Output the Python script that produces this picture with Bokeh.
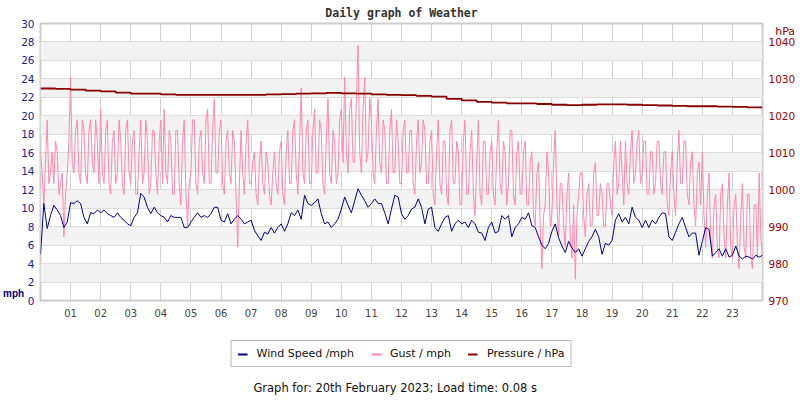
from bokeh.plotting import figure
from bokeh.layouts import column
from bokeh.models import Range1d, LinearAxis, FixedTicker, Legend, LegendItem, Label
from bokeh.embed import file_html
from bokeh.resources import INLINE

# ---------------- data ----------------
wind_step_hours = 1 / 9    # wind logged every 6 min 40 s
gust_step_hours = 1 / 18   # gust logged every 3 min 20 s

wind_mph = [
    5.0, 10.5, 7.8, 9.2, 10.3, 9.8, 9.2, 7.9, 8.5,
    10.6, 10.5, 10.8, 10.5, 9.0, 8.3, 9.5, 9.4, 9.8,
    9.5, 9.8, 9.4, 9.2, 9.0, 9.5, 9.0, 8.7, 8.3,
    8.1, 9.0, 9.5, 11.6, 11.2, 10.1, 9.4, 10.1, 9.5,
    9.2, 9.0, 8.5, 9.2, 9.0, 9.0, 9.0, 7.9, 7.9,
    8.5, 9.0, 9.5, 9.0, 9.2, 9.0, 9.4, 10.1, 10.1,
    8.7, 8.5, 9.4, 8.3, 8.8, 9.2, 8.8, 8.3, 8.5,
    8.7, 7.6, 7.0, 6.5, 7.4, 7.2, 7.9, 7.3, 7.9,
    8.3, 7.5, 8.3, 9.5, 9.2, 9.8, 8.8, 11.4, 10.5,
    10.3, 10.6, 11.0, 9.4, 8.3, 8.5, 7.9, 8.3, 8.8,
    9.9, 11.2, 10.3, 9.5, 10.8, 12.1, 11.4, 10.8, 10.1,
    10.5, 11.0, 10.5, 10.5, 9.5, 8.3, 9.9, 11.4, 11.2,
    9.4, 8.8, 9.2, 9.9, 10.1, 11.0, 10.1, 8.3, 9.9,
    10.1, 7.9, 7.5, 8.3, 9.0, 9.2, 7.5, 8.3, 8.7,
    8.3, 8.5, 7.9, 8.7, 8.3, 7.4, 7.3, 6.5, 7.9,
    8.5, 7.3, 7.5, 9.2, 8.8, 9.2, 6.9, 7.9, 8.3,
    9.0, 8.8, 9.5, 8.1, 7.9, 6.9, 6.0, 5.6, 6.2,
    7.5, 8.3, 6.8, 5.9, 5.2, 6.4, 5.7, 5.2, 5.6,
    4.8, 5.6, 6.4, 6.9, 7.7, 6.9, 5.0, 6.2, 6.0,
    6.5, 8.7, 9.4, 8.5, 9.0, 8.3, 10.1, 9.0, 8.7,
    7.9, 8.7, 7.9, 8.7, 8.3, 9.0, 9.5, 9.4, 6.9,
    6.5, 7.4, 8.3, 9.0, 7.9, 6.9, 7.3, 7.3, 4.9,
    6.4, 7.9, 7.7, 4.8, 5.2, 5.6, 4.8, 5.6, 4.7,
    4.9, 5.9, 4.8, 4.5, 4.8, 4.7, 4.5, 4.9, 4.7,
    4.9,
]

# gusts are logged in whole knots (one row per hour)
gust_knots = [
    14, 12, 9, 13, 17, 11, 12, 14, 11, 15, 14, 10, 11, 12, 6, 10, 12, 15,
    21, 13, 12, 16, 17, 12, 11, 17, 16, 12, 11, 16, 17, 13, 12, 17, 15, 11,
    18, 12, 11, 16, 17, 11, 10, 15, 16, 11, 12, 17, 15, 11, 10, 16, 17, 12,
    11, 15, 16, 10, 10, 14, 17, 11, 12, 17, 15, 10, 11, 16, 16, 12, 10, 15,
    17, 11, 18, 12, 11, 16, 15, 10, 10, 16, 16, 11, 9, 15, 17, 10, 7, 11,
    12, 17, 17, 11, 10, 15, 16, 12, 11, 17, 18, 11, 11, 16, 19, 12, 12, 16,
    17, 11, 10, 15, 16, 12, 11, 16, 15, 10, 5, 11, 16, 12, 10, 15, 17, 11,
    11, 13, 14, 10, 9, 13, 15, 11, 10, 14, 13, 10, 9, 12, 14, 11, 10, 14,
    15, 10, 9, 14, 16, 11, 11, 16, 17, 12, 10, 15, 20, 12, 11, 16, 17, 11,
    11, 16, 18, 12, 12, 17, 16, 11, 10, 15, 19, 12, 11, 16, 15, 11, 12, 17,
    18, 13, 21, 14, 12, 18, 19, 13, 13, 19, 24, 14, 12, 18, 21, 13, 14, 19,
    17, 12, 11, 16, 19, 13, 12, 17, 16, 11, 11, 16, 18, 12, 12, 17, 15, 11,
    11, 16, 17, 12, 12, 16, 16, 11, 10, 15, 17, 12, 13, 17, 16, 11, 11, 15,
    16, 10, 9, 14, 17, 11, 10, 15, 15, 10, 9, 16, 17, 11, 11, 15, 14, 9,
    9, 15, 17, 10, 10, 14, 16, 10, 8, 13, 17, 10, 9, 15, 15, 10, 10, 14,
    15, 10, 9, 14, 17, 11, 10, 15, 14, 9, 11, 16, 16, 10, 9, 14, 15, 10,
    10, 14, 15, 9, 9, 13, 14, 8, 7, 12, 13, 7, 3, 8, 9, 14, 12, 7,
    8, 13, 16, 9, 6, 11, 11, 7, 5, 10, 12, 6, 4, 9, 2, 8, 10, 12,
    12, 8, 6, 10, 11, 7, 7, 12, 13, 8, 8, 11, 10, 7, 7, 11, 11, 9,
    8, 13, 15, 10, 11, 15, 12, 9, 15, 11, 10, 14, 16, 11, 12, 15, 16, 11,
    12, 15, 15, 10, 10, 14, 14, 10, 11, 15, 15, 11, 10, 14, 14, 9, 8, 12,
    14, 10, 8, 13, 16, 11, 11, 15, 15, 10, 9, 13, 14, 9, 7, 12, 13, 9,
    14, 8, 5, 10, 12, 6, 4, 9, 10, 5, 4, 10, 11, 6, 4, 9, 12, 5,
    4, 9, 10, 5, 3, 8, 11, 5, 4, 10, 10, 4, 3, 9, 9, 4, 12, 6,
    4,
]
MPH_PER_KNOT = 1.1508

pressure_step_hours = 0.5
pressure_hpa = [
    1027.4, 1027.3, 1027.1, 1026.8, 1026.6, 1026.3, 1026.0, 1026.0,
    1025.8, 1025.7, 1025.7, 1025.7, 1025.7, 1025.7, 1025.7, 1025.8,
    1025.9, 1026.0, 1026.1, 1026.2, 1026.1, 1026.0, 1025.8, 1025.7,
    1025.6, 1025.4, 1025.2, 1024.6, 1024.2, 1023.8, 1023.6, 1023.4,
    1023.4, 1023.2, 1023.0, 1022.9, 1023.0, 1023.1, 1023.1, 1023.0,
    1022.9, 1022.8, 1022.7, 1022.6, 1022.6, 1022.5, 1022.4, 1022.3,
    1022.3,
]

hour_ticks = list(range(1, 24))
hour_labels = ["%02d" % h for h in hour_ticks]
mph_ticks = list(range(0, 31, 2))
hpa_ticks = list(range(970, 1041, 10))

series_labels = ["Wind Speed /mph", "Gust / mph", "Pressure / hPa"]
title_text = "Daily graph of Weather"
footer_text = "Graph for: 20th February 2023; Load time: 0.08 s"
left_unit = "mph"
right_unit = "hPa"

# ---------------- derived ----------------
wind_hours = [i * wind_step_hours for i in range(len(wind_mph))]
gust_hours = [i * gust_step_hours for i in range(len(gust_knots))]
gust_mph = [k * MPH_PER_KNOT for k in gust_knots]
pressure_hours = [i * pressure_step_hours for i in range(len(pressure_hpa))]

WIND_C = "#000088"
GUST_C = "#ff88ad"
PRES_C = "#8b0000"
FONT = "DejaVu Sans"

# ---------------- main chart ----------------
p = figure(width=800, height=330, output_backend="svg", toolbar_location=None,
           x_range=Range1d(0, 24), y_range=Range1d(0, 30),
           min_border_left=40, min_border_right=38, min_border_top=23,
           min_border_bottom=30, background_fill_color="white",
           border_fill_color="white")
p.extra_y_ranges = {"hpa": Range1d(970, 1045)}

p.title.text = title_text
p.title.align = "center"
p.title.text_font = "DejaVu Sans Mono"
p.title.text_font_size = "11.5px"
p.title.text_font_style = "bold"
p.title.text_color = "#333333"
p.title.standoff = 7

p.outline_line_color = "#cccccc"
p.outline_line_width = 2

# x axis
xa = p.xaxis[0]
xa.ticker = FixedTicker(ticks=hour_ticks)
xa.major_label_overrides = {h: l for h, l in zip(hour_ticks, hour_labels)}
xa.axis_line_color = None
xa.major_tick_line_color = None
xa.minor_tick_line_color = None
xa.major_tick_out = 0
xa.major_tick_in = 0
xa.major_label_standoff = 8
xa.major_label_text_font = FONT
xa.major_label_text_font_size = "10px"
xa.major_label_text_color = "#444444"

# left axis (unit label sits at the bottom, beside "0")
ya = p.yaxis[0]
ya.ticker = FixedTicker(ticks=mph_ticks)
ya.axis_line_color = None
ya.major_tick_line_color = None
ya.minor_tick_line_color = None
ya.major_tick_out = 0
ya.major_tick_in = 0
ya.major_label_standoff = 6
ya.major_label_text_font = FONT
ya.major_label_text_font_size = "10.5px"
ya.major_label_text_color = "#1c1c8c"
ya.axis_label = left_unit + "\n"
ya.axis_label_orientation = "horizontal"
ya.axis_label_align = "start"
ya.axis_label_standoff = -6
ya.axis_label_text_font = "Liberation Sans"
ya.axis_label_text_font_size = "10px"
ya.axis_label_text_font_style = "bold"
ya.axis_label_text_color = "#000080"

# right axis (unit label sits at the top, beside "1040")
ra = LinearAxis(y_range_name="hpa", ticker=FixedTicker(ticks=hpa_ticks))
ra.axis_line_color = None
ra.major_tick_line_color = None
ra.minor_tick_line_color = None
ra.major_tick_out = 0
ra.major_tick_in = 0
ra.major_label_standoff = 6
ra.major_label_text_font = FONT
ra.major_label_text_font_size = "10.5px"
ra.major_label_text_color = "#990000"
ra.axis_label = "\n" + right_unit
ra.axis_label_orientation = "horizontal"
ra.axis_label_align = "end"
ra.axis_label_standoff = -23
ra.axis_label_text_font = FONT
ra.axis_label_text_font_size = "11px"
ra.axis_label_text_font_style = "normal"
ra.axis_label_text_color = "#990000"
p.add_layout(ra, "right")

# grids
p.xgrid.ticker = FixedTicker(ticks=hour_ticks)
p.xgrid.grid_line_color = "#d2d2d2"
p.ygrid.ticker = FixedTicker(ticks=mph_ticks)
p.ygrid.grid_line_color = "#dcdcdc"
p.ygrid.band_fill_color = "#f2f2f2"
p.ygrid.band_fill_alpha = 1.0

# series
r_gust = p.line(gust_hours, gust_mph, line_color=GUST_C, line_width=1)
r_wind = p.line(wind_hours, wind_mph, line_color=WIND_C, line_width=1)
r_pres = p.step(pressure_hours, pressure_hpa, mode="after", y_range_name="hpa",
                line_color=PRES_C, line_width=1.8)

# ---------------- legend + footer strip ----------------
q = figure(width=800, height=70, output_backend="svg", toolbar_location=None,
           x_range=Range1d(0, 800), y_range=Range1d(0, 70),
           x_axis_type=None, y_axis_type=None,
           min_border=0, min_border_left=0, min_border_right=0,
           min_border_top=0, min_border_bottom=0,
           background_fill_color="white", border_fill_color="white")
q.outline_line_color = None
q.grid.visible = False

# legend swatches: same series, hidden in this strip
k_wind = q.line(wind_hours, wind_mph, line_color=WIND_C, line_width=2, visible=False)
k_gust = q.line(gust_hours, gust_mph, line_color=GUST_C, line_width=2, visible=False)
k_pres = q.line(pressure_hours, pressure_hpa, line_color=PRES_C, line_width=2, visible=False)

legend = Legend(items=[LegendItem(label=series_labels[0], renderers=[k_wind]),
                       LegendItem(label=series_labels[1], renderers=[k_gust]),
                       LegendItem(label=series_labels[2], renderers=[k_pres])],
                orientation="horizontal", location="top_center",
                glyph_width=10, glyph_height=12, label_height=12,
                label_standoff=9, spacing=17, padding=6, margin=10,
                border_line_color="#777777", border_line_width=1,
                background_fill_color="white", background_fill_alpha=1,
                inactive_fill_alpha=0,
                label_text_font=FONT, label_text_font_size="11px",
                label_text_color="#111111")
q.add_layout(legend, "center")

q.add_layout(Label(x=393, y=13, text=footer_text, text_font=FONT,
                   text_font_size="11.5px", text_color="#111111",
                   text_align="center", text_baseline="middle"))

layout = column(p, q, spacing=0)
open("out.html", "w").write(file_html(layout, INLINE))
